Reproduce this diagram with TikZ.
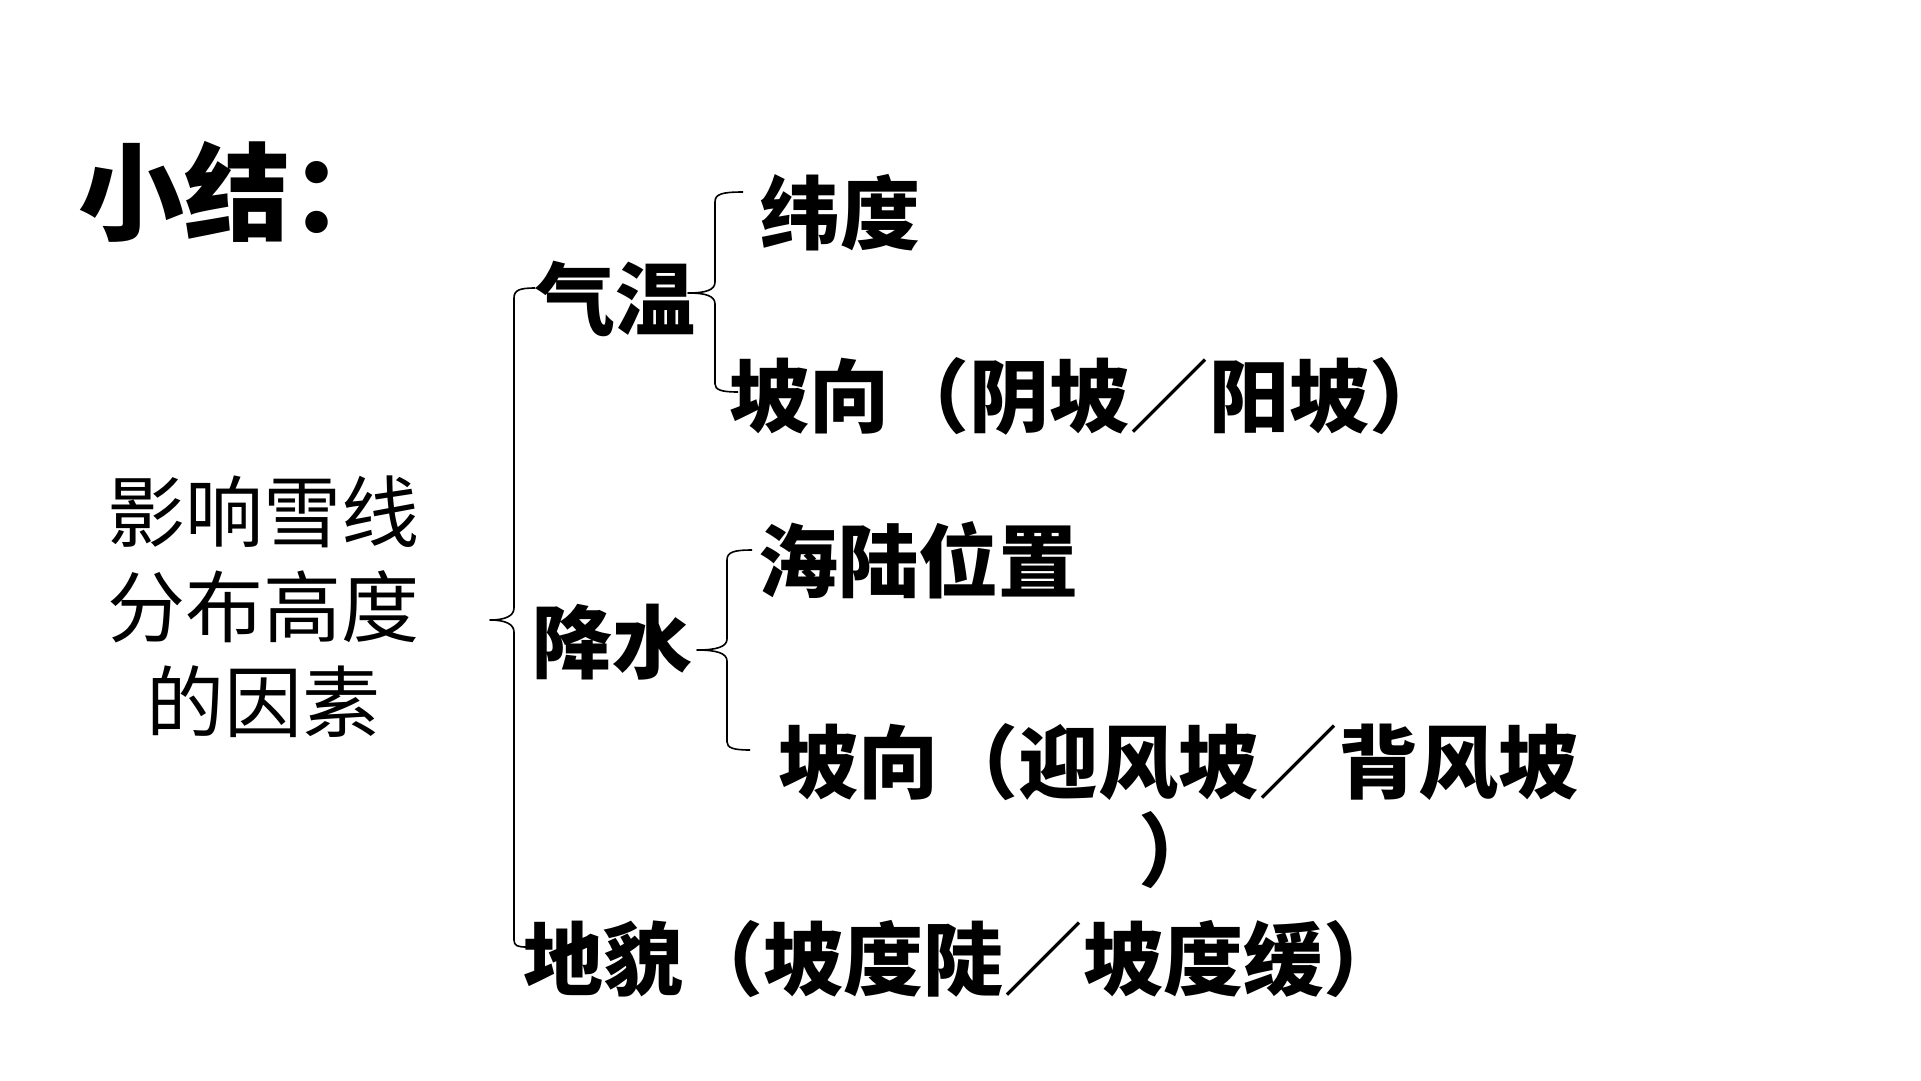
\documentclass[tikz,border=0pt]{standalone}
\usepackage{fontspec}
\newfontfamily\cjk{Noto Sans CJK SC}
\newcommand{\thinslash}{{\mdseries ／}}
\begin{document}
\begin{tikzpicture}[x=1pt,y=-1pt,
  lbl/.style={inner sep=0pt,anchor=west,font=\cjk\bfseries\fontsize{80}{88}\selectfont},
  bracepath/.style={line width=1.6pt,line join=round}]
\useasboundingbox (0,0) rectangle (1921,1080);
\fill[white] (0,0) rectangle (1921,1080);
% title
\node[inner sep=0pt,anchor=west,font=\cjk\bfseries\fontsize{106}{110}\selectfont] (title) at (78,192) {小结：};
% left text
\node[inner sep=0pt,align=center,font=\cjk\fontsize{78}{95}\selectfont] (main) at (263,607) {影响雪线\\分布高度\\的因素};
% level 1
\node[lbl] (qiwen) at (535,299) {气温};
\node[lbl] (jiangshui) at (532,642) {降水};
\node[lbl] (dimao) at (523,959) {地貌（坡度陡\thinslash 坡度缓）};
% level 2
\node[lbl] (weidu) at (760,213) {纬度};
\node[lbl] (poxiang1) at (729,396) {坡向（阴坡\thinslash 阳坡）};
\node[lbl] (haolu) at (758,560) {海陆位置};
\node[inner sep=0pt,align=center,font=\cjk\bfseries\fontsize{80}{88}\selectfont] (poxiang2) at (1178,806) {坡向（迎风坡\thinslash 背风坡\\）};
% brace coordinates
\coordinate (B0tip) at (490,620);
\coordinate (B0top) at (535,288);
\coordinate (B0bot) at (527,947);
\coordinate (B1tip) at (688,293);
\coordinate (B1top) at (743,192);
\coordinate (B1bot) at (738,392);
\coordinate (B2tip) at (697,650);
\coordinate (B2top) at (752,550);
\coordinate (B2bot) at (750,750);
% big brace
\draw[bracepath] (B0top) .. controls (520,288) and (514,290) .. (514,298)
  -- (514,608) .. controls (514,616) and (505,620) .. (B0tip)
  .. controls (505,620) and (514,624) .. (514,632)
  -- (514,940) .. controls (514,946) and (518,947) .. (B0bot);
% brace for 气温
\draw[bracepath] (B1top) .. controls (722,192) and (715,194) .. (715,202)
  -- (715,282) .. controls (715,290) and (706,293) .. (B1tip)
  .. controls (706,293) and (715,296) .. (715,304)
  -- (715,384) .. controls (715,390) and (722,392) .. (B1bot);
% brace for 降水
\draw[bracepath] (B2top) .. controls (734,550) and (727,552) .. (727,560)
  -- (727,639) .. controls (727,647) and (716,650) .. (B2tip)
  .. controls (716,650) and (727,653) .. (727,661)
  -- (727,742) .. controls (727,748) and (734,750) .. (B2bot);
\end{tikzpicture}
\end{document}
